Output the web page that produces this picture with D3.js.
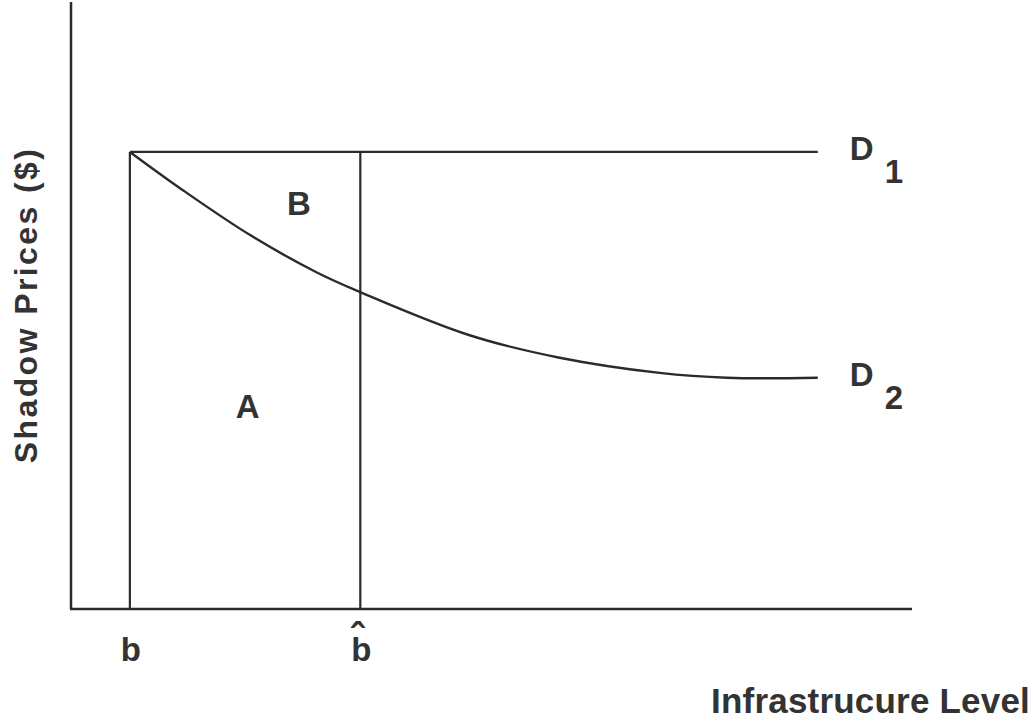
<!DOCTYPE html>
<html lang="en">
<head>
    <meta charset="UTF-8">
    <title>Shadow Prices vs Infrastructure Level</title>
    <script src="https://d3js.org/d3.v7.min.js"></script>
    <style>
        body {
            margin: 0;
            background-color: #ffffff;
        }
        .axis-line {
            stroke: #2b2b2b;
            stroke-width: 2.5;
        }
        .guide {
            stroke: #2b2b2b;
            stroke-width: 2.2;
        }
        .curve {
            fill: none;
            stroke: #2b2b2b;
            stroke-width: 2.4;
        }
        text {
            font-family: "Liberation Sans", Arial, sans-serif;
            font-weight: bold;
            fill: #333333;
        }
    </style>
</head>
<body>
    <div id="chart"></div>

    <script>
        // Conceptual units (0-100 on both axes)
        var bLevel = 7.0;        // b
        var bHatLevel = 34.4;    // b-hat
        var d1Price = 75.3;      // flat demand curve D1
        var curveEnd = 88.8;

        // D2 demand curve
        var d2X = [7.0, 13.3, 21.3, 29.3, 34.4, 47.4, 58.1, 70.0, 78.0, 88.8];
        var d2Y = [75.3, 69.0, 61.6, 55.4, 52.2, 45.1, 41.4, 38.9, 38.1, 38.1];

        var tickLabels = ["b", "b"];
        var regionLabels = [
            {name: "B", x: 27.1, y: 64.9},
            {name: "A", x: 21.0, y: 31.5}
        ];

        var width = 1035, height = 721;

        var svg = d3.select("#chart").append("svg")
            .attr("width", width)
            .attr("height", height);

        var x = d3.scaleLinear().domain([0, 100]).range([71, 912]);
        var y = d3.scaleLinear().domain([0, 100]).range([609, 2]);

        // Axes
        svg.append("line").attr("class", "axis-line")
            .attr("x1", x(0)).attr("y1", y(0))
            .attr("x2", x(0)).attr("y2", y(100));
        svg.append("line").attr("class", "axis-line")
            .attr("x1", x(0) - 1).attr("y1", y(0))
            .attr("x2", x(100)).attr("y2", y(0));

        // Verticals at b and b-hat
        [bLevel, bHatLevel].forEach(function(v) {
            svg.append("line").attr("class", "guide")
                .attr("x1", x(v)).attr("y1", y(0))
                .attr("x2", x(v)).attr("y2", y(d1Price));
        });

        // D1
        svg.append("line").attr("class", "guide")
            .attr("x1", x(bLevel)).attr("y1", y(d1Price))
            .attr("x2", x(curveEnd)).attr("y2", y(d1Price));

        // D2
        var d2 = d2X.map(function(v, i) { return [v, d2Y[i]]; });
        var line = d3.line()
            .x(function(d) { return x(d[0]); })
            .y(function(d) { return y(d[1]); })
            .curve(d3.curveCatmullRom.alpha(0.5));
        svg.append("path")
            .datum(d2)
            .attr("class", "curve")
            .attr("d", line);

        // D labels with subscripts
        var dLabels = [{sub: "1", price: d1Price}, {sub: "2", price: d2Y[d2Y.length - 1]}];
        dLabels.forEach(function(d) {
            var t = svg.append("text")
                .attr("x", x(curveEnd) + 32)
                .attr("y", y(d.price) + 8.5)
                .style("font-size", "33px");
            t.append("tspan").text("D");
            t.append("tspan")
                .attr("dx", 11)
                .attr("dy", 23)
                .text(d.sub);
        });

        // Region labels
        svg.selectAll(".region")
            .data(regionLabels)
            .enter().append("text")
            .attr("class", "region")
            .attr("x", function(d) { return x(d.x); })
            .attr("y", function(d) { return y(d.y); })
            .attr("text-anchor", "middle")
            .style("font-size", "33px")
            .text(function(d) { return d.name; });

        // Tick labels under the axis
        svg.selectAll(".tick-label")
            .data([bLevel, bHatLevel])
            .enter().append("text")
            .attr("class", "tick-label")
            .attr("x", function(d) { return x(d) + 1; })
            .attr("y", 661)
            .attr("text-anchor", "middle")
            .style("font-size", "33px")
            .text(function(d, i) { return tickLabels[i]; });

        // hat over the second b
        svg.append("text")
            .attr("x", x(bHatLevel) - 3)
            .attr("y", 652)
            .attr("text-anchor", "middle")
            .style("font-size", "40px")
            .text("\u02C6");

        // Axis titles
        svg.append("text")
            .attr("x", 1030)
            .attr("y", 713)
            .attr("text-anchor", "end")
            .style("font-size", "35px")
            .style("letter-spacing", "0.2px")
            .text("Infrastrucure Level");

        svg.append("text")
            .attr("transform", "translate(37,305) rotate(-90)")
            .attr("text-anchor", "middle")
            .style("font-size", "32px")
            .style("letter-spacing", "2.4px")
            .text("Shadow Prices ($)");
    </script>
</body>
</html>
